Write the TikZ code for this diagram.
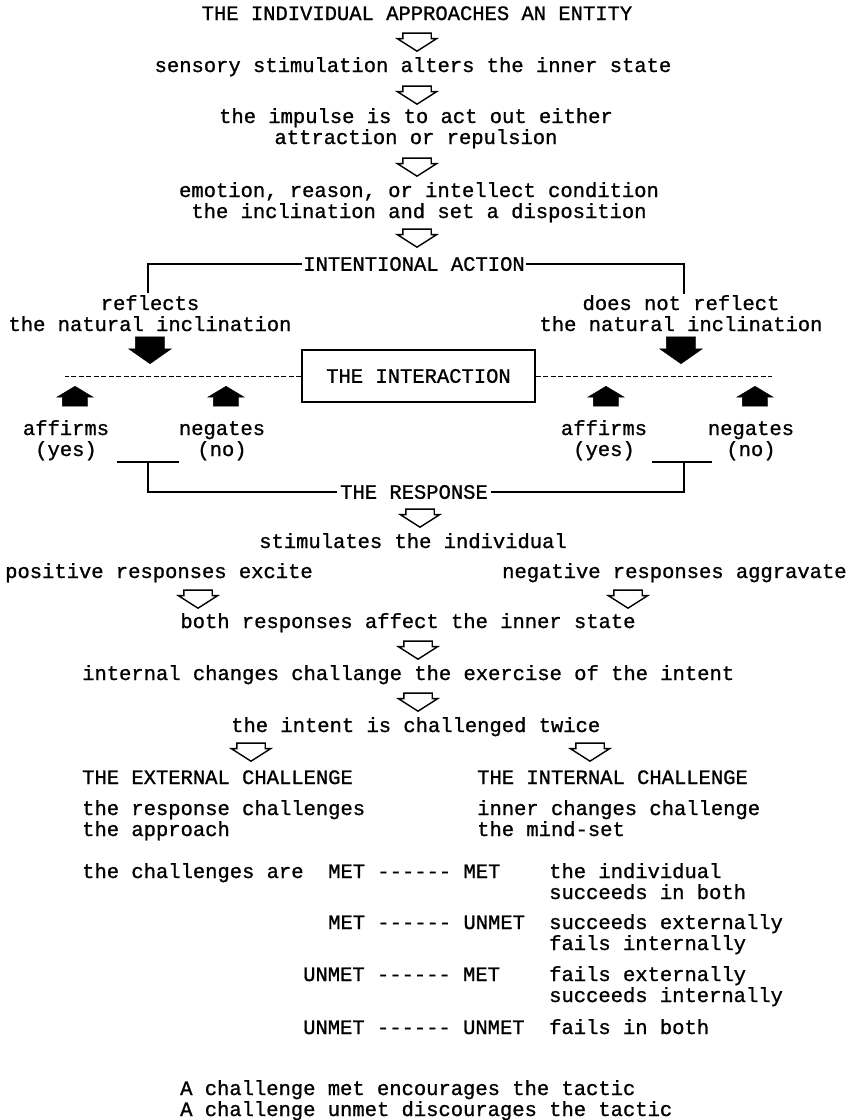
\documentclass[tikz,border=0pt]{standalone}
\usepackage{fontspec}
\newfontfamily\typew[FakeBold=1]{Liberation Mono}
\usetikzlibrary{shapes.arrows}

\begin{document}
\begin{tikzpicture}[
  x=1pt, y=-1pt,
  font=\typew\fontsize{20.5}{21}\selectfont,
  txt/.style={inner sep=0pt, anchor=base},
  txtl/.style={inner sep=0pt, anchor=base west, align=left},
  hol/.style={single arrow, draw, line width=1.4pt, rotate=-90, anchor=tip,
    minimum height=18pt, inner xsep=0pt, inner ysep=13.5pt,
    single arrow head extend=5.5pt, single arrow tip angle=115},
  blkdn/.style={single arrow, draw, fill, rotate=-90, anchor=tip,
    minimum height=27pt, inner xsep=0pt, inner ysep=14.5pt,
    single arrow head extend=6.5pt, single arrow tip angle=110},
  blkup/.style={single arrow, draw, fill, rotate=90, anchor=tip,
    minimum height=20pt, inner xsep=0pt, inner ysep=12.5pt,
    single arrow head extend=5.5pt, single arrow tip angle=118},
  brk/.style={line width=1.2pt},
  dsh/.style={line width=0.8pt, dash pattern=on 5pt off 2.5pt}
]
\useasboundingbox (0,0) rectangle (849,1120);
% ---------------- approach ----------------
\node[txt] (approach) at (417,20) {THE INDIVIDUAL APPROACHES AN ENTITY};
\node[hol] (a1) at (417,52) {};
\node[txt] (sense) at (413,72) {sensory stimulation alters the inner state};
\node[hol] (a2) at (417,105) {};
\node[txt, align=center] (impulse) at (416,144) {the impulse is to act out either\\attraction or repulsion};
\node[hol] (a3) at (417,177) {};
\node[txt, align=center] (cond) at (419,218) {emotion, reason, or intellect condition\\the inclination and set a disposition};
\node[hol] (a4) at (417,248) {};
% ---------------- intentional action ----------------
\node[inner sep=1pt] (ia) at (414,264) {INTENTIONAL ACTION};
\coordinate (iaL) at (148,293);
\coordinate (iaR) at (684,294);
\draw[brk] (ia.west) -| (iaL);
\draw[brk] (ia.east) -| (iaR);
\node[txt, align=center] (refl) at (150,331) {reflects\\the natural inclination};
\node[txt, align=center] (nrefl) at (681,331) {does not reflect\\the natural inclination};
\node[blkdn] (d1) at (150,364) {};
\node[blkdn] (d2) at (681,364) {};
% ---------------- interaction ----------------
\node[draw, line width=1.2pt, minimum width=233pt, minimum height=52pt] (inter) at (418.5,376) {THE INTERACTION};
\coordinate (dL) at (65,376);
\coordinate (dR) at (772,376);
\draw[dsh] (inter.west) -- (dL);
\draw[dsh] (inter.east) -- (dR);
\node[blkup] (u1) at (75,386) {};
\node[blkup] (u2) at (226,386) {};
\node[blkup] (u3) at (606,386) {};
\node[blkup] (u4) at (755,386) {};
\node[txt, align=center] (aff1) at (66,456) {affirms\\(yes)};
\node[txt, align=center] (neg1) at (222,456) {negates\\(no)};
\node[txt, align=center] (aff2) at (604,456) {affirms\\(yes)};
\node[txt, align=center] (neg2) at (751,456) {negates\\(no)};
% ---------------- response ----------------
\node[inner xsep=3pt, inner ysep=1pt] (resp) at (414,492) {THE RESPONSE};
\coordinate (rla) at (117,462);
\coordinate (rlm) at (148,462);
\coordinate (rlb) at (179,462);
\coordinate (rra) at (652,462);
\coordinate (rrm) at (684,462);
\coordinate (rrb) at (712,462);
\draw[brk] (rla) -- (rlb);
\draw[brk] (rra) -- (rrb);
\draw[brk] (rlm) |- (resp.west);
\draw[brk] (rrm) |- (resp.east);
\node[hol] (a5) at (420,528) {};
\node[txt] (stim) at (413,548) {stimulates the individual};
\node[txtl] (pos) at (5,578) {positive responses excite};
\node[txtl] (negr) at (502,578) {negative responses aggravate};
\node[hol] (a6) at (198,609) {};
\node[hol] (a7) at (628,609) {};
\node[txt] (both) at (408,628) {both responses affect the inner state};
\node[hol] (a8) at (418,660) {};
\node[txtl] (chg) at (82,680) {internal changes challange the exercise of the intent};
\node[hol] (a9) at (418,712) {};
\node[txtl] (twice) at (231,732) {the intent is challenged twice};
\node[hol] (a10) at (251,762) {};
\node[hol] (a11) at (590,762) {};
% ---------------- two challenges ----------------
\node[txtl] (ext) at (82,784) {THE EXTERNAL CHALLENGE};
\node[txtl] (int) at (477,784) {THE INTERNAL CHALLENGE};
\node[txtl] (extd) at (82,836) {the response challenges\\the approach};
\node[txtl] (intd) at (477,836) {inner changes challenge\\the mind-set};
% ---------------- outcomes ----------------
\node[txtl] (are) at (82,878) {the challenges are};
\node[txtl] (r1) at (328,878) {MET ------ MET};
\node[txtl] (o1) at (549,899) {the individual\\succeeds in both};
\node[txtl] (r2) at (328,929) {MET ------ UNMET};
\node[txtl] (o2) at (549,950) {succeeds externally\\fails internally};
\node[txtl] (r3) at (303,981) {UNMET ------ MET};
\node[txtl] (o3) at (549,1002) {fails externally\\succeeds internally};
\node[txtl] (r4) at (303,1034) {UNMET ------ UNMET};
\node[txtl] (o4) at (549,1034) {fails in both};
\node[txtl] (met) at (180,1095) {A challenge met encourages the tactic};
\node[txtl] (unmet) at (180,1116) {A challenge unmet discourages the tactic};
\end{tikzpicture}
\end{document}
